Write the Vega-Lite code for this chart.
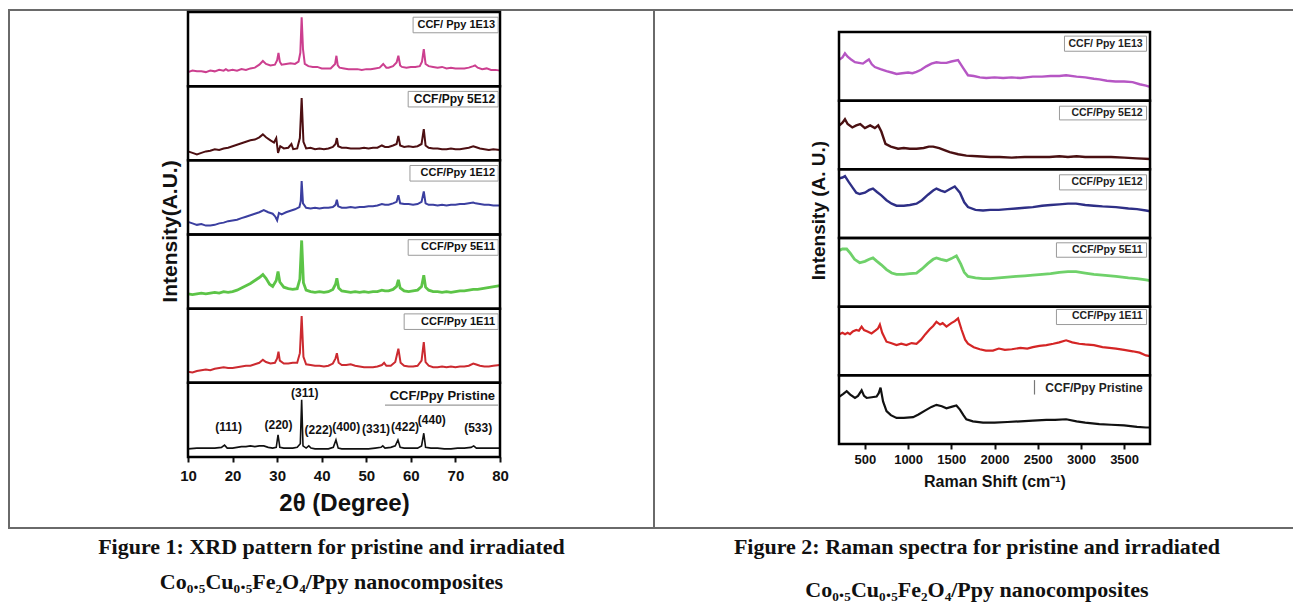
{
"$schema": "https://vega.github.io/schema/vega-lite/v6.json",
"padding": {"left": 8, "top": 9, "right": -8, "bottom": -4},
"bounds": "flush",
"spacing": 0,
"columns": 2,
"datasets": {
"hkl": [
{"t":"(111)","x":19.1,"y":0.41},{"t":"(220)","x":30.3,"y":0.43},{"t":"(311)","x":36.2,"y":0.86},{"t":"(222)","x":39.3,"y":0.36},{"t":"(400)","x":45.5,"y":0.4},{"t":"(331)","x":52.2,"y":0.38},{"t":"(422)","x":58.7,"y":0.4},{"t":"(440)","x":64.7,"y":0.5},{"t":"(533)","x":75.1,"y":0.39}
],
"xrd": [
{"s":"1E13","x":10,"y":0.19},{"s":"1E13","x":11,"y":0.21},{"s":"1E13","x":12,"y":0.2},{"s":"1E13","x":13,"y":0.2},{"s":"1E13","x":14,"y":0.19},{"s":"1E13","x":15,"y":0.21},{"s":"1E13","x":16,"y":0.2},{"s":"1E13","x":17,"y":0.22},{"s":"1E13","x":18,"y":0.21},{"s":"1E13","x":18.5,"y":0.23},{"s":"1E13","x":19,"y":0.21},{"s":"1E13","x":20,"y":0.22},{"s":"1E13","x":21,"y":0.21},{"s":"1E13","x":22,"y":0.23},{"s":"1E13","x":23,"y":0.22},{"s":"1E13","x":24,"y":0.24},{"s":"1E13","x":25,"y":0.25},{"s":"1E13","x":26,"y":0.29},{"s":"1E13","x":26.8,"y":0.34},{"s":"1E13","x":27.5,"y":0.3},{"s":"1E13","x":28.5,"y":0.28},{"s":"1E13","x":29.5,"y":0.29},{"s":"1E13","x":30,"y":0.35},{"s":"1E13","x":30.3,"y":0.45},{"s":"1E13","x":30.6,"y":0.33},{"s":"1E13","x":31,"y":0.29},{"s":"1E13","x":32,"y":0.3},{"s":"1E13","x":33,"y":0.31},{"s":"1E13","x":34,"y":0.3},{"s":"1E13","x":34.8,"y":0.33},{"s":"1E13","x":35.2,"y":0.45},{"s":"1E13","x":35.5,"y":0.93},{"s":"1E13","x":35.8,"y":0.5},{"s":"1E13","x":36.2,"y":0.3},{"s":"1E13","x":37,"y":0.27},{"s":"1E13","x":38,"y":0.26},{"s":"1E13","x":39,"y":0.26},{"s":"1E13","x":40,"y":0.24},{"s":"1E13","x":41,"y":0.24},{"s":"1E13","x":42,"y":0.24},{"s":"1E13","x":43,"y":0.3},{"s":"1E13","x":43.3,"y":0.41},{"s":"1E13","x":43.6,"y":0.28},{"s":"1E13","x":44,"y":0.25},{"s":"1E13","x":45,"y":0.24},{"s":"1E13","x":46,"y":0.23},{"s":"1E13","x":47,"y":0.23},{"s":"1E13","x":48,"y":0.23},{"s":"1E13","x":49,"y":0.22},{"s":"1E13","x":50,"y":0.23},{"s":"1E13","x":51,"y":0.23},{"s":"1E13","x":52,"y":0.24},{"s":"1E13","x":53,"y":0.25},{"s":"1E13","x":53.8,"y":0.3},{"s":"1E13","x":54.5,"y":0.25},{"s":"1E13","x":55,"y":0.25},{"s":"1E13","x":56,"y":0.27},{"s":"1E13","x":56.8,"y":0.32},{"s":"1E13","x":57.2,"y":0.41},{"s":"1E13","x":57.6,"y":0.28},{"s":"1E13","x":58,"y":0.26},{"s":"1E13","x":59,"y":0.25},{"s":"1E13","x":60,"y":0.26},{"s":"1E13","x":61,"y":0.26},{"s":"1E13","x":62,"y":0.27},{"s":"1E13","x":62.5,"y":0.33},{"s":"1E13","x":62.9,"y":0.5},{"s":"1E13","x":63.3,"y":0.3},{"s":"1E13","x":64,"y":0.27},{"s":"1E13","x":65,"y":0.26},{"s":"1E13","x":66,"y":0.25},{"s":"1E13","x":67,"y":0.26},{"s":"1E13","x":68,"y":0.24},{"s":"1E13","x":69,"y":0.25},{"s":"1E13","x":70,"y":0.24},{"s":"1E13","x":71,"y":0.24},{"s":"1E13","x":72,"y":0.24},{"s":"1E13","x":73,"y":0.25},{"s":"1E13","x":74,"y":0.27},{"s":"1E13","x":74.4,"y":0.28},{"s":"1E13","x":75,"y":0.25},{"s":"1E13","x":76,"y":0.23},{"s":"1E13","x":77,"y":0.24},{"s":"1E13","x":78,"y":0.22},{"s":"1E13","x":79,"y":0.22},{"s":"1E13","x":80,"y":0.21},
{"s":"5E12","x":10,"y":0.12},{"s":"5E12","x":11,"y":0.1},{"s":"5E12","x":12,"y":0.08},{"s":"5E12","x":13,"y":0.1},{"s":"5E12","x":14,"y":0.12},{"s":"5E12","x":15,"y":0.13},{"s":"5E12","x":16,"y":0.15},{"s":"5E12","x":17,"y":0.14},{"s":"5E12","x":18,"y":0.16},{"s":"5E12","x":19,"y":0.17},{"s":"5E12","x":20,"y":0.19},{"s":"5E12","x":21,"y":0.21},{"s":"5E12","x":22,"y":0.23},{"s":"5E12","x":23,"y":0.25},{"s":"5E12","x":24,"y":0.27},{"s":"5E12","x":25,"y":0.28},{"s":"5E12","x":26,"y":0.31},{"s":"5E12","x":26.8,"y":0.35},{"s":"5E12","x":27.5,"y":0.31},{"s":"5E12","x":28.5,"y":0.27},{"s":"5E12","x":29.3,"y":0.24},{"s":"5E12","x":29.8,"y":0.3},{"s":"5E12","x":30.2,"y":0.1},{"s":"5E12","x":30.7,"y":0.19},{"s":"5E12","x":31.5,"y":0.16},{"s":"5E12","x":32.5,"y":0.17},{"s":"5E12","x":33.2,"y":0.22},{"s":"5E12","x":33.6,"y":0.15},{"s":"5E12","x":34.5,"y":0.16},{"s":"5E12","x":35.1,"y":0.3},{"s":"5E12","x":35.5,"y":0.84},{"s":"5E12","x":35.9,"y":0.25},{"s":"5E12","x":36.5,"y":0.16},{"s":"5E12","x":37.5,"y":0.17},{"s":"5E12","x":38.5,"y":0.15},{"s":"5E12","x":39.5,"y":0.16},{"s":"5E12","x":40.5,"y":0.15},{"s":"5E12","x":41.5,"y":0.16},{"s":"5E12","x":42.5,"y":0.18},{"s":"5E12","x":43.1,"y":0.22},{"s":"5E12","x":43.4,"y":0.3},{"s":"5E12","x":43.7,"y":0.19},{"s":"5E12","x":44.5,"y":0.17},{"s":"5E12","x":45.5,"y":0.17},{"s":"5E12","x":46.5,"y":0.16},{"s":"5E12","x":47.5,"y":0.16},{"s":"5E12","x":48.5,"y":0.16},{"s":"5E12","x":49.5,"y":0.17},{"s":"5E12","x":50.5,"y":0.16},{"s":"5E12","x":51.5,"y":0.17},{"s":"5E12","x":52.5,"y":0.17},{"s":"5E12","x":53.5,"y":0.2},{"s":"5E12","x":54.2,"y":0.18},{"s":"5E12","x":55,"y":0.18},{"s":"5E12","x":56,"y":0.2},{"s":"5E12","x":56.8,"y":0.22},{"s":"5E12","x":57.2,"y":0.33},{"s":"5E12","x":57.6,"y":0.2},{"s":"5E12","x":58.5,"y":0.18},{"s":"5E12","x":59.5,"y":0.19},{"s":"5E12","x":60.5,"y":0.18},{"s":"5E12","x":61.5,"y":0.19},{"s":"5E12","x":62.4,"y":0.22},{"s":"5E12","x":62.9,"y":0.42},{"s":"5E12","x":63.3,"y":0.2},{"s":"5E12","x":64,"y":0.17},{"s":"5E12","x":65,"y":0.16},{"s":"5E12","x":66,"y":0.16},{"s":"5E12","x":67,"y":0.15},{"s":"5E12","x":68,"y":0.15},{"s":"5E12","x":69,"y":0.16},{"s":"5E12","x":70,"y":0.15},{"s":"5E12","x":71,"y":0.15},{"s":"5E12","x":72,"y":0.16},{"s":"5E12","x":73,"y":0.17},{"s":"5E12","x":74,"y":0.19},{"s":"5E12","x":74.5,"y":0.18},{"s":"5E12","x":75.5,"y":0.16},{"s":"5E12","x":76.5,"y":0.15},{"s":"5E12","x":77.5,"y":0.14},{"s":"5E12","x":78.5,"y":0.15},{"s":"5E12","x":80,"y":0.14},
{"s":"1E12","x":10,"y":0.17},{"s":"1E12","x":11,"y":0.15},{"s":"1E12","x":12,"y":0.13},{"s":"1E12","x":13,"y":0.14},{"s":"1E12","x":14,"y":0.12},{"s":"1E12","x":15,"y":0.12},{"s":"1E12","x":16,"y":0.13},{"s":"1E12","x":17,"y":0.15},{"s":"1E12","x":18,"y":0.16},{"s":"1E12","x":19,"y":0.18},{"s":"1E12","x":20,"y":0.19},{"s":"1E12","x":21,"y":0.2},{"s":"1E12","x":22,"y":0.22},{"s":"1E12","x":23,"y":0.24},{"s":"1E12","x":24,"y":0.26},{"s":"1E12","x":25,"y":0.28},{"s":"1E12","x":26,"y":0.3},{"s":"1E12","x":27,"y":0.33},{"s":"1E12","x":28,"y":0.3},{"s":"1E12","x":29,"y":0.28},{"s":"1E12","x":29.6,"y":0.24},{"s":"1E12","x":30,"y":0.19},{"s":"1E12","x":30.4,"y":0.29},{"s":"1E12","x":31,"y":0.27},{"s":"1E12","x":32,"y":0.3},{"s":"1E12","x":33,"y":0.32},{"s":"1E12","x":34,"y":0.34},{"s":"1E12","x":35,"y":0.37},{"s":"1E12","x":35.3,"y":0.45},{"s":"1E12","x":35.5,"y":0.72},{"s":"1E12","x":35.8,"y":0.42},{"s":"1E12","x":36.5,"y":0.36},{"s":"1E12","x":37.5,"y":0.35},{"s":"1E12","x":38.5,"y":0.36},{"s":"1E12","x":39.5,"y":0.35},{"s":"1E12","x":40.5,"y":0.36},{"s":"1E12","x":41.5,"y":0.36},{"s":"1E12","x":42.5,"y":0.37},{"s":"1E12","x":43.1,"y":0.4},{"s":"1E12","x":43.4,"y":0.47},{"s":"1E12","x":43.7,"y":0.38},{"s":"1E12","x":44.5,"y":0.36},{"s":"1E12","x":45.5,"y":0.36},{"s":"1E12","x":46.5,"y":0.37},{"s":"1E12","x":47.5,"y":0.36},{"s":"1E12","x":48.5,"y":0.37},{"s":"1E12","x":49.5,"y":0.37},{"s":"1E12","x":50.5,"y":0.38},{"s":"1E12","x":51.5,"y":0.38},{"s":"1E12","x":52.5,"y":0.39},{"s":"1E12","x":53.5,"y":0.41},{"s":"1E12","x":54.2,"y":0.4},{"s":"1E12","x":55,"y":0.4},{"s":"1E12","x":56,"y":0.42},{"s":"1E12","x":56.8,"y":0.44},{"s":"1E12","x":57.2,"y":0.53},{"s":"1E12","x":57.6,"y":0.42},{"s":"1E12","x":58.5,"y":0.41},{"s":"1E12","x":59.5,"y":0.41},{"s":"1E12","x":60.5,"y":0.4},{"s":"1E12","x":61.5,"y":0.41},{"s":"1E12","x":62.4,"y":0.44},{"s":"1E12","x":62.9,"y":0.58},{"s":"1E12","x":63.3,"y":0.42},{"s":"1E12","x":64,"y":0.4},{"s":"1E12","x":65,"y":0.4},{"s":"1E12","x":66,"y":0.39},{"s":"1E12","x":67,"y":0.4},{"s":"1E12","x":68,"y":0.39},{"s":"1E12","x":69,"y":0.4},{"s":"1E12","x":70,"y":0.4},{"s":"1E12","x":71,"y":0.41},{"s":"1E12","x":72,"y":0.41},{"s":"1E12","x":73,"y":0.42},{"s":"1E12","x":74,"y":0.43},{"s":"1E12","x":74.5,"y":0.42},{"s":"1E12","x":75.5,"y":0.41},{"s":"1E12","x":76.5,"y":0.4},{"s":"1E12","x":77.5,"y":0.4},{"s":"1E12","x":78.5,"y":0.39},{"s":"1E12","x":80,"y":0.39},
{"s":"5E11","x":10,"y":0.2},{"s":"5E11","x":11,"y":0.19},{"s":"5E11","x":12,"y":0.2},{"s":"5E11","x":13,"y":0.21},{"s":"5E11","x":14,"y":0.2},{"s":"5E11","x":15,"y":0.21},{"s":"5E11","x":16,"y":0.22},{"s":"5E11","x":17,"y":0.21},{"s":"5E11","x":18,"y":0.23},{"s":"5E11","x":19,"y":0.22},{"s":"5E11","x":20,"y":0.23},{"s":"5E11","x":21,"y":0.25},{"s":"5E11","x":22,"y":0.28},{"s":"5E11","x":23,"y":0.31},{"s":"5E11","x":24,"y":0.34},{"s":"5E11","x":25,"y":0.38},{"s":"5E11","x":26,"y":0.42},{"s":"5E11","x":26.8,"y":0.46},{"s":"5E11","x":27.5,"y":0.41},{"s":"5E11","x":28.3,"y":0.33},{"s":"5E11","x":29,"y":0.3},{"s":"5E11","x":29.8,"y":0.38},{"s":"5E11","x":30.2,"y":0.5},{"s":"5E11","x":30.6,"y":0.36},{"s":"5E11","x":31.5,"y":0.29},{"s":"5E11","x":32.5,"y":0.27},{"s":"5E11","x":33.5,"y":0.26},{"s":"5E11","x":34.5,"y":0.27},{"s":"5E11","x":35.1,"y":0.4},{"s":"5E11","x":35.5,"y":0.92},{"s":"5E11","x":35.9,"y":0.35},{"s":"5E11","x":36.5,"y":0.25},{"s":"5E11","x":37.5,"y":0.23},{"s":"5E11","x":38.5,"y":0.22},{"s":"5E11","x":39.5,"y":0.23},{"s":"5E11","x":40.5,"y":0.22},{"s":"5E11","x":41.5,"y":0.23},{"s":"5E11","x":42.5,"y":0.26},{"s":"5E11","x":43.1,"y":0.33},{"s":"5E11","x":43.4,"y":0.41},{"s":"5E11","x":43.8,"y":0.28},{"s":"5E11","x":44.5,"y":0.24},{"s":"5E11","x":45.5,"y":0.23},{"s":"5E11","x":46.5,"y":0.22},{"s":"5E11","x":47.5,"y":0.23},{"s":"5E11","x":48.5,"y":0.22},{"s":"5E11","x":49.5,"y":0.23},{"s":"5E11","x":50.5,"y":0.22},{"s":"5E11","x":51.5,"y":0.23},{"s":"5E11","x":52.5,"y":0.23},{"s":"5E11","x":53.5,"y":0.25},{"s":"5E11","x":54.2,"y":0.24},{"s":"5E11","x":55,"y":0.24},{"s":"5E11","x":56,"y":0.26},{"s":"5E11","x":56.8,"y":0.3},{"s":"5E11","x":57.2,"y":0.39},{"s":"5E11","x":57.6,"y":0.28},{"s":"5E11","x":58.5,"y":0.24},{"s":"5E11","x":59.5,"y":0.23},{"s":"5E11","x":60.5,"y":0.24},{"s":"5E11","x":61.5,"y":0.25},{"s":"5E11","x":62.4,"y":0.3},{"s":"5E11","x":62.9,"y":0.45},{"s":"5E11","x":63.3,"y":0.29},{"s":"5E11","x":64,"y":0.25},{"s":"5E11","x":65,"y":0.23},{"s":"5E11","x":66,"y":0.23},{"s":"5E11","x":67,"y":0.22},{"s":"5E11","x":68,"y":0.23},{"s":"5E11","x":69,"y":0.22},{"s":"5E11","x":70,"y":0.23},{"s":"5E11","x":71,"y":0.24},{"s":"5E11","x":72,"y":0.24},{"s":"5E11","x":73,"y":0.25},{"s":"5E11","x":74,"y":0.26},{"s":"5E11","x":75,"y":0.26},{"s":"5E11","x":76,"y":0.27},{"s":"5E11","x":77,"y":0.28},{"s":"5E11","x":78,"y":0.29},{"s":"5E11","x":79,"y":0.3},{"s":"5E11","x":80,"y":0.31},
{"s":"1E11","x":10,"y":0.15},{"s":"1E11","x":11,"y":0.14},{"s":"1E11","x":12,"y":0.16},{"s":"1E11","x":13,"y":0.17},{"s":"1E11","x":14,"y":0.18},{"s":"1E11","x":15,"y":0.17},{"s":"1E11","x":16,"y":0.19},{"s":"1E11","x":17,"y":0.2},{"s":"1E11","x":18,"y":0.21},{"s":"1E11","x":19,"y":0.2},{"s":"1E11","x":20,"y":0.2},{"s":"1E11","x":21,"y":0.21},{"s":"1E11","x":22,"y":0.22},{"s":"1E11","x":23,"y":0.23},{"s":"1E11","x":24,"y":0.23},{"s":"1E11","x":25,"y":0.25},{"s":"1E11","x":26,"y":0.27},{"s":"1E11","x":26.8,"y":0.31},{"s":"1E11","x":27.5,"y":0.28},{"s":"1E11","x":28.5,"y":0.26},{"s":"1E11","x":29.5,"y":0.27},{"s":"1E11","x":30,"y":0.33},{"s":"1E11","x":30.3,"y":0.42},{"s":"1E11","x":30.6,"y":0.3},{"s":"1E11","x":31.5,"y":0.26},{"s":"1E11","x":32.5,"y":0.26},{"s":"1E11","x":33.5,"y":0.27},{"s":"1E11","x":34.5,"y":0.27},{"s":"1E11","x":35.1,"y":0.4},{"s":"1E11","x":35.5,"y":0.9},{"s":"1E11","x":35.9,"y":0.35},{"s":"1E11","x":36.5,"y":0.25},{"s":"1E11","x":37.5,"y":0.24},{"s":"1E11","x":38.5,"y":0.23},{"s":"1E11","x":39.5,"y":0.23},{"s":"1E11","x":40.5,"y":0.22},{"s":"1E11","x":41.5,"y":0.23},{"s":"1E11","x":42.5,"y":0.26},{"s":"1E11","x":43.1,"y":0.33},{"s":"1E11","x":43.4,"y":0.4},{"s":"1E11","x":43.8,"y":0.27},{"s":"1E11","x":44.5,"y":0.24},{"s":"1E11","x":45.5,"y":0.24},{"s":"1E11","x":46.5,"y":0.25},{"s":"1E11","x":47.5,"y":0.23},{"s":"1E11","x":48.5,"y":0.22},{"s":"1E11","x":49.5,"y":0.21},{"s":"1E11","x":50.5,"y":0.21},{"s":"1E11","x":51.5,"y":0.21},{"s":"1E11","x":52.5,"y":0.22},{"s":"1E11","x":53.5,"y":0.24},{"s":"1E11","x":54,"y":0.27},{"s":"1E11","x":54.5,"y":0.23},{"s":"1E11","x":55.5,"y":0.23},{"s":"1E11","x":56.5,"y":0.28},{"s":"1E11","x":57.2,"y":0.46},{"s":"1E11","x":57.7,"y":0.27},{"s":"1E11","x":58.5,"y":0.23},{"s":"1E11","x":59.5,"y":0.22},{"s":"1E11","x":60.5,"y":0.22},{"s":"1E11","x":61.5,"y":0.23},{"s":"1E11","x":62.4,"y":0.3},{"s":"1E11","x":62.9,"y":0.55},{"s":"1E11","x":63.3,"y":0.28},{"s":"1E11","x":64,"y":0.23},{"s":"1E11","x":65,"y":0.21},{"s":"1E11","x":66,"y":0.21},{"s":"1E11","x":67,"y":0.22},{"s":"1E11","x":68,"y":0.21},{"s":"1E11","x":69,"y":0.22},{"s":"1E11","x":70,"y":0.21},{"s":"1E11","x":71,"y":0.22},{"s":"1E11","x":72,"y":0.22},{"s":"1E11","x":73,"y":0.23},{"s":"1E11","x":74,"y":0.26},{"s":"1E11","x":74.5,"y":0.25},{"s":"1E11","x":75.5,"y":0.23},{"s":"1E11","x":76.5,"y":0.22},{"s":"1E11","x":77.5,"y":0.22},{"s":"1E11","x":78.5,"y":0.23},{"s":"1E11","x":80,"y":0.24},
{"s":"P","x":10,"y":0.11},{"s":"P","x":12,"y":0.12},{"s":"P","x":14,"y":0.12},{"s":"P","x":16,"y":0.12},{"s":"P","x":17.5,"y":0.13},{"s":"P","x":18.2,"y":0.16},{"s":"P","x":18.8,"y":0.12},{"s":"P","x":20,"y":0.12},{"s":"P","x":21,"y":0.13},{"s":"P","x":22,"y":0.14},{"s":"P","x":23,"y":0.14},{"s":"P","x":24,"y":0.15},{"s":"P","x":25,"y":0.14},{"s":"P","x":26,"y":0.15},{"s":"P","x":27,"y":0.15},{"s":"P","x":28,"y":0.13},{"s":"P","x":29,"y":0.12},{"s":"P","x":29.8,"y":0.13},{"s":"P","x":30.2,"y":0.3},{"s":"P","x":30.6,"y":0.13},{"s":"P","x":31.5,"y":0.12},{"s":"P","x":32.5,"y":0.12},{"s":"P","x":33.5,"y":0.12},{"s":"P","x":34.5,"y":0.13},{"s":"P","x":35.2,"y":0.18},{"s":"P","x":35.5,"y":0.77},{"s":"P","x":35.8,"y":0.15},{"s":"P","x":36.5,"y":0.12},{"s":"P","x":37.1,"y":0.15},{"s":"P","x":37.6,"y":0.12},{"s":"P","x":38.5,"y":0.11},{"s":"P","x":39.5,"y":0.11},{"s":"P","x":40.5,"y":0.11},{"s":"P","x":41.5,"y":0.11},{"s":"P","x":42.6,"y":0.13},{"s":"P","x":43.2,"y":0.23},{"s":"P","x":43.7,"y":0.12},{"s":"P","x":44.5,"y":0.11},{"s":"P","x":46,"y":0.11},{"s":"P","x":47.5,"y":0.11},{"s":"P","x":49,"y":0.11},{"s":"P","x":50.5,"y":0.11},{"s":"P","x":52,"y":0.12},{"s":"P","x":53.3,"y":0.13},{"s":"P","x":53.7,"y":0.15},{"s":"P","x":54.2,"y":0.12},{"s":"P","x":55.5,"y":0.13},{"s":"P","x":56.5,"y":0.15},{"s":"P","x":57.1,"y":0.23},{"s":"P","x":57.6,"y":0.13},{"s":"P","x":58.5,"y":0.12},{"s":"P","x":60,"y":0.12},{"s":"P","x":61.5,"y":0.12},{"s":"P","x":62.4,"y":0.15},{"s":"P","x":62.9,"y":0.32},{"s":"P","x":63.3,"y":0.13},{"s":"P","x":64.5,"y":0.12},{"s":"P","x":66,"y":0.12},{"s":"P","x":67.5,"y":0.11},{"s":"P","x":69,"y":0.11},{"s":"P","x":70.5,"y":0.12},{"s":"P","x":72,"y":0.12},{"s":"P","x":73.5,"y":0.13},{"s":"P","x":74.1,"y":0.15},{"s":"P","x":74.7,"y":0.12},{"s":"P","x":76,"y":0.12},{"s":"P","x":78,"y":0.12},{"s":"P","x":80,"y":0.12}
],
"raman": [
{"s":"1E13","x":205,"y":0.6},{"s":"1E13","x":240,"y":0.63},{"s":"1E13","x":269,"y":0.69},{"s":"1E13","x":300,"y":0.64},{"s":"1E13","x":340,"y":0.6},{"s":"1E13","x":385,"y":0.56},{"s":"1E13","x":430,"y":0.55},{"s":"1E13","x":477,"y":0.54},{"s":"1E13","x":510,"y":0.57},{"s":"1E13","x":546,"y":0.6},{"s":"1E13","x":580,"y":0.53},{"s":"1E13","x":615,"y":0.49},{"s":"1E13","x":680,"y":0.46},{"s":"1E13","x":750,"y":0.43},{"s":"1E13","x":810,"y":0.41},{"s":"1E13","x":866,"y":0.39},{"s":"1E13","x":930,"y":0.4},{"s":"1E13","x":1000,"y":0.41},{"s":"1E13","x":1050,"y":0.4},{"s":"1E13","x":1097,"y":0.42},{"s":"1E13","x":1150,"y":0.45},{"s":"1E13","x":1210,"y":0.5},{"s":"1E13","x":1270,"y":0.54},{"s":"1E13","x":1328,"y":0.56},{"s":"1E13","x":1380,"y":0.55},{"s":"1E13","x":1444,"y":0.55},{"s":"1E13","x":1500,"y":0.57},{"s":"1E13","x":1578,"y":0.59},{"s":"1E13","x":1640,"y":0.47},{"s":"1E13","x":1693,"y":0.37},{"s":"1E13","x":1760,"y":0.36},{"s":"1E13","x":1830,"y":0.34},{"s":"1E13","x":1905,"y":0.33},{"s":"1E13","x":2000,"y":0.34},{"s":"1E13","x":2100,"y":0.33},{"s":"1E13","x":2200,"y":0.34},{"s":"1E13","x":2300,"y":0.33},{"s":"1E13","x":2444,"y":0.35},{"s":"1E13","x":2550,"y":0.35},{"s":"1E13","x":2650,"y":0.36},{"s":"1E13","x":2750,"y":0.36},{"s":"1E13","x":2829,"y":0.37},{"s":"1E13","x":2950,"y":0.35},{"s":"1E13","x":3050,"y":0.34},{"s":"1E13","x":3150,"y":0.32},{"s":"1E13","x":3214,"y":0.31},{"s":"1E13","x":3300,"y":0.29},{"s":"1E13","x":3400,"y":0.28},{"s":"1E13","x":3500,"y":0.28},{"s":"1E13","x":3598,"y":0.27},{"s":"1E13","x":3680,"y":0.24},{"s":"1E13","x":3753,"y":0.22},{"s":"1E13","x":3800,"y":0.2},
{"s":"5E12","x":205,"y":0.64},{"s":"5E12","x":240,"y":0.68},{"s":"5E12","x":269,"y":0.73},{"s":"5E12","x":300,"y":0.66},{"s":"5E12","x":354,"y":0.61},{"s":"5E12","x":400,"y":0.64},{"s":"5E12","x":446,"y":0.66},{"s":"5E12","x":500,"y":0.6},{"s":"5E12","x":561,"y":0.64},{"s":"5E12","x":615,"y":0.6},{"s":"5E12","x":654,"y":0.64},{"s":"5E12","x":690,"y":0.55},{"s":"5E12","x":738,"y":0.37},{"s":"5E12","x":800,"y":0.33},{"s":"5E12","x":884,"y":0.3},{"s":"5E12","x":950,"y":0.31},{"s":"5E12","x":1020,"y":0.3},{"s":"5E12","x":1097,"y":0.3},{"s":"5E12","x":1180,"y":0.31},{"s":"5E12","x":1240,"y":0.33},{"s":"5E12","x":1290,"y":0.33},{"s":"5E12","x":1360,"y":0.31},{"s":"5E12","x":1420,"y":0.28},{"s":"5E12","x":1482,"y":0.25},{"s":"5E12","x":1580,"y":0.22},{"s":"5E12","x":1674,"y":0.2},{"s":"5E12","x":1800,"y":0.19},{"s":"5E12","x":1950,"y":0.18},{"s":"5E12","x":2059,"y":0.18},{"s":"5E12","x":2200,"y":0.17},{"s":"5E12","x":2350,"y":0.18},{"s":"5E12","x":2500,"y":0.18},{"s":"5E12","x":2636,"y":0.18},{"s":"5E12","x":2750,"y":0.19},{"s":"5E12","x":2850,"y":0.18},{"s":"5E12","x":2950,"y":0.19},{"s":"5E12","x":3050,"y":0.18},{"s":"5E12","x":3214,"y":0.18},{"s":"5E12","x":3350,"y":0.18},{"s":"5E12","x":3500,"y":0.17},{"s":"5E12","x":3650,"y":0.16},{"s":"5E12","x":3800,"y":0.15},
{"s":"1E12","x":205,"y":0.87},{"s":"1E12","x":240,"y":0.88},{"s":"1E12","x":269,"y":0.9},{"s":"1E12","x":310,"y":0.82},{"s":"1E12","x":360,"y":0.73},{"s":"1E12","x":400,"y":0.66},{"s":"1E12","x":439,"y":0.64},{"s":"1E12","x":500,"y":0.66},{"s":"1E12","x":550,"y":0.7},{"s":"1E12","x":593,"y":0.72},{"s":"1E12","x":640,"y":0.67},{"s":"1E12","x":690,"y":0.62},{"s":"1E12","x":750,"y":0.55},{"s":"1E12","x":810,"y":0.5},{"s":"1E12","x":866,"y":0.47},{"s":"1E12","x":950,"y":0.47},{"s":"1E12","x":1020,"y":0.48},{"s":"1E12","x":1097,"y":0.5},{"s":"1E12","x":1160,"y":0.55},{"s":"1E12","x":1230,"y":0.63},{"s":"1E12","x":1290,"y":0.69},{"s":"1E12","x":1328,"y":0.72},{"s":"1E12","x":1380,"y":0.69},{"s":"1E12","x":1425,"y":0.67},{"s":"1E12","x":1480,"y":0.71},{"s":"1E12","x":1540,"y":0.75},{"s":"1E12","x":1600,"y":0.66},{"s":"1E12","x":1650,"y":0.52},{"s":"1E12","x":1693,"y":0.45},{"s":"1E12","x":1780,"y":0.41},{"s":"1E12","x":1867,"y":0.4},{"s":"1E12","x":1950,"y":0.41},{"s":"1E12","x":2050,"y":0.41},{"s":"1E12","x":2150,"y":0.42},{"s":"1E12","x":2250,"y":0.43},{"s":"1E12","x":2350,"y":0.44},{"s":"1E12","x":2444,"y":0.45},{"s":"1E12","x":2550,"y":0.47},{"s":"1E12","x":2650,"y":0.48},{"s":"1E12","x":2750,"y":0.49},{"s":"1E12","x":2850,"y":0.5},{"s":"1E12","x":2944,"y":0.5},{"s":"1E12","x":3050,"y":0.48},{"s":"1E12","x":3150,"y":0.47},{"s":"1E12","x":3250,"y":0.46},{"s":"1E12","x":3406,"y":0.45},{"s":"1E12","x":3550,"y":0.43},{"s":"1E12","x":3650,"y":0.42},{"s":"1E12","x":3753,"y":0.4},{"s":"1E12","x":3800,"y":0.39},
{"s":"5E11","x":205,"y":0.82},{"s":"5E11","x":240,"y":0.84},{"s":"5E11","x":289,"y":0.84},{"s":"5E11","x":330,"y":0.78},{"s":"5E11","x":380,"y":0.69},{"s":"5E11","x":439,"y":0.64},{"s":"5E11","x":500,"y":0.66},{"s":"5E11","x":550,"y":0.69},{"s":"5E11","x":593,"y":0.71},{"s":"5E11","x":640,"y":0.66},{"s":"5E11","x":690,"y":0.61},{"s":"5E11","x":750,"y":0.54},{"s":"5E11","x":810,"y":0.49},{"s":"5E11","x":866,"y":0.47},{"s":"5E11","x":950,"y":0.47},{"s":"5E11","x":1020,"y":0.48},{"s":"5E11","x":1097,"y":0.49},{"s":"5E11","x":1160,"y":0.55},{"s":"5E11","x":1230,"y":0.63},{"s":"5E11","x":1290,"y":0.69},{"s":"5E11","x":1328,"y":0.71},{"s":"5E11","x":1380,"y":0.69},{"s":"5E11","x":1444,"y":0.67},{"s":"5E11","x":1500,"y":0.7},{"s":"5E11","x":1559,"y":0.74},{"s":"5E11","x":1610,"y":0.62},{"s":"5E11","x":1650,"y":0.5},{"s":"5E11","x":1693,"y":0.44},{"s":"5E11","x":1780,"y":0.42},{"s":"5E11","x":1867,"y":0.41},{"s":"5E11","x":1950,"y":0.41},{"s":"5E11","x":2050,"y":0.42},{"s":"5E11","x":2150,"y":0.43},{"s":"5E11","x":2250,"y":0.44},{"s":"5E11","x":2350,"y":0.45},{"s":"5E11","x":2444,"y":0.46},{"s":"5E11","x":2550,"y":0.47},{"s":"5E11","x":2650,"y":0.48},{"s":"5E11","x":2750,"y":0.5},{"s":"5E11","x":2850,"y":0.51},{"s":"5E11","x":2944,"y":0.51},{"s":"5E11","x":3050,"y":0.49},{"s":"5E11","x":3150,"y":0.47},{"s":"5E11","x":3250,"y":0.46},{"s":"5E11","x":3406,"y":0.44},{"s":"5E11","x":3550,"y":0.42},{"s":"5E11","x":3650,"y":0.41},{"s":"5E11","x":3753,"y":0.39},{"s":"5E11","x":3800,"y":0.38},
{"s":"1E11","x":205,"y":0.6},{"s":"1E11","x":240,"y":0.62},{"s":"1E11","x":270,"y":0.6},{"s":"1E11","x":300,"y":0.62},{"s":"1E11","x":327,"y":0.6},{"s":"1E11","x":360,"y":0.64},{"s":"1E11","x":400,"y":0.66},{"s":"1E11","x":430,"y":0.65},{"s":"1E11","x":462,"y":0.71},{"s":"1E11","x":490,"y":0.66},{"s":"1E11","x":530,"y":0.64},{"s":"1E11","x":577,"y":0.61},{"s":"1E11","x":620,"y":0.65},{"s":"1E11","x":650,"y":0.68},{"s":"1E11","x":673,"y":0.74},{"s":"1E11","x":700,"y":0.62},{"s":"1E11","x":750,"y":0.49},{"s":"1E11","x":800,"y":0.47},{"s":"1E11","x":866,"y":0.44},{"s":"1E11","x":920,"y":0.46},{"s":"1E11","x":980,"y":0.44},{"s":"1E11","x":1040,"y":0.47},{"s":"1E11","x":1097,"y":0.46},{"s":"1E11","x":1150,"y":0.52},{"s":"1E11","x":1200,"y":0.6},{"s":"1E11","x":1250,"y":0.67},{"s":"1E11","x":1290,"y":0.72},{"s":"1E11","x":1328,"y":0.78},{"s":"1E11","x":1370,"y":0.74},{"s":"1E11","x":1400,"y":0.76},{"s":"1E11","x":1444,"y":0.71},{"s":"1E11","x":1500,"y":0.76},{"s":"1E11","x":1540,"y":0.79},{"s":"1E11","x":1578,"y":0.83},{"s":"1E11","x":1620,"y":0.66},{"s":"1E11","x":1660,"y":0.52},{"s":"1E11","x":1693,"y":0.46},{"s":"1E11","x":1760,"y":0.41},{"s":"1E11","x":1830,"y":0.38},{"s":"1E11","x":1900,"y":0.36},{"s":"1E11","x":1982,"y":0.36},{"s":"1E11","x":2050,"y":0.39},{"s":"1E11","x":2120,"y":0.37},{"s":"1E11","x":2200,"y":0.38},{"s":"1E11","x":2300,"y":0.4},{"s":"1E11","x":2380,"y":0.39},{"s":"1E11","x":2444,"y":0.41},{"s":"1E11","x":2520,"y":0.43},{"s":"1E11","x":2600,"y":0.44},{"s":"1E11","x":2680,"y":0.46},{"s":"1E11","x":2750,"y":0.48},{"s":"1E11","x":2829,"y":0.51},{"s":"1E11","x":2900,"y":0.48},{"s":"1E11","x":2980,"y":0.46},{"s":"1E11","x":3050,"y":0.45},{"s":"1E11","x":3150,"y":0.44},{"s":"1E11","x":3250,"y":0.41},{"s":"1E11","x":3330,"y":0.4},{"s":"1E11","x":3406,"y":0.39},{"s":"1E11","x":3500,"y":0.37},{"s":"1E11","x":3600,"y":0.35},{"s":"1E11","x":3680,"y":0.33},{"s":"1E11","x":3753,"y":0.29},{"s":"1E11","x":3800,"y":0.28},
{"s":"P","x":205,"y":0.69},{"s":"P","x":250,"y":0.73},{"s":"P","x":289,"y":0.77},{"s":"P","x":330,"y":0.72},{"s":"P","x":385,"y":0.67},{"s":"P","x":420,"y":0.7},{"s":"P","x":462,"y":0.78},{"s":"P","x":490,"y":0.7},{"s":"P","x":520,"y":0.67},{"s":"P","x":580,"y":0.68},{"s":"P","x":635,"y":0.69},{"s":"P","x":660,"y":0.74},{"s":"P","x":681,"y":0.82},{"s":"P","x":710,"y":0.62},{"s":"P","x":750,"y":0.48},{"s":"P","x":800,"y":0.42},{"s":"P","x":866,"y":0.38},{"s":"P","x":950,"y":0.38},{"s":"P","x":1058,"y":0.39},{"s":"P","x":1120,"y":0.43},{"s":"P","x":1200,"y":0.49},{"s":"P","x":1270,"y":0.54},{"s":"P","x":1328,"y":0.57},{"s":"P","x":1390,"y":0.55},{"s":"P","x":1444,"y":0.52},{"s":"P","x":1500,"y":0.54},{"s":"P","x":1559,"y":0.56},{"s":"P","x":1600,"y":0.5},{"s":"P","x":1640,"y":0.42},{"s":"P","x":1674,"y":0.36},{"s":"P","x":1750,"y":0.33},{"s":"P","x":1867,"y":0.31},{"s":"P","x":2000,"y":0.31},{"s":"P","x":2150,"y":0.32},{"s":"P","x":2300,"y":0.33},{"s":"P","x":2444,"y":0.34},{"s":"P","x":2600,"y":0.35},{"s":"P","x":2700,"y":0.35},{"s":"P","x":2829,"y":0.36},{"s":"P","x":2950,"y":0.33},{"s":"P","x":3050,"y":0.31},{"s":"P","x":3214,"y":0.29},{"s":"P","x":3350,"y":0.28},{"s":"P","x":3500,"y":0.27},{"s":"P","x":3650,"y":0.25},{"s":"P","x":3753,"y":0.24},{"s":"P","x":3800,"y":0.24}
]
},
"concat": [
{
"width": 645, "height": 518,
"resolve": {"scale": {"y": "independent"}},
"layer": [
{"layer": [
{"data": {"name": "xrd"}, "transform": [{"filter": "datum.s === '1E13'"}], "mark": {"type": "line", "color": "#cc3f8f", "strokeWidth": 2}, "encoding": {"x": {"field": "x", "type": "quantitative", "scale": {"domain": [10, 80], "range": [179, 491], "nice": false, "zero": false}}, "y": {"field": "y", "type": "quantitative", "scale": {"domain": [0, 1], "range": [76.2, 2], "nice": false, "zero": false}, "axis": null}}},
{"data": {"values": [{}]}, "mark": {"type": "rect", "filled": false, "stroke": "#000", "strokeWidth": 2.5}, "encoding": {"x": {"datum": 10, "type": "quantitative", "scale": {"domain": [10, 80], "range": [179, 491], "nice": false, "zero": false}}, "x2": {"datum": 80}, "y": {"datum": 0, "type": "quantitative", "scale": {"domain": [0, 1], "range": [76.2, 2], "nice": false, "zero": false}, "axis": null}, "y2": {"datum": 1}}},
{"data": {"values": [{}]}, "mark": {"type": "rect", "fill": "#fff", "stroke": "#9a9a9a", "strokeWidth": 1}, "encoding": {"x": {"datum": 60.5, "type": "quantitative", "scale": {"domain": [10, 80], "range": [179, 491], "nice": false, "zero": false}}, "x2": {"datum": 79.6}, "y": {"datum": 0.72, "type": "quantitative", "scale": {"domain": [0, 1], "range": [76.2, 2], "nice": false, "zero": false}, "axis": null}, "y2": {"datum": 0.93}}},
{"data": {"values": [{}]}, "mark": {"type": "text", "text": "CCF/ Ppy 1E13", "align": "right", "baseline": "middle", "fontSize": 11, "fontWeight": "bold", "color": "#111"}, "encoding": {"x": {"datum": 78.9, "type": "quantitative", "scale": {"domain": [10, 80], "range": [179, 491], "nice": false, "zero": false}}, "y": {"datum": 0.825, "type": "quantitative", "scale": {"domain": [0, 1], "range": [76.2, 2], "nice": false, "zero": false}, "axis": null}}}
]},
{"layer": [
{"data": {"name": "xrd"}, "transform": [{"filter": "datum.s === '5E12'"}], "mark": {"type": "line", "color": "#4d0f12", "strokeWidth": 2}, "encoding": {"x": {"field": "x", "type": "quantitative", "scale": {"domain": [10, 80], "range": [179, 491], "nice": false, "zero": false}}, "y": {"field": "y", "type": "quantitative", "scale": {"domain": [0, 1], "range": [150.3, 76.2], "nice": false, "zero": false}, "axis": null}}},
{"data": {"values": [{}]}, "mark": {"type": "rect", "filled": false, "stroke": "#000", "strokeWidth": 2.5}, "encoding": {"x": {"datum": 10, "type": "quantitative", "scale": {"domain": [10, 80], "range": [179, 491], "nice": false, "zero": false}}, "x2": {"datum": 80}, "y": {"datum": 0, "type": "quantitative", "scale": {"domain": [0, 1], "range": [150.3, 76.2], "nice": false, "zero": false}, "axis": null}, "y2": {"datum": 1}}},
{"data": {"values": [{}]}, "mark": {"type": "rect", "fill": "#fff", "stroke": "#9a9a9a", "strokeWidth": 1}, "encoding": {"x": {"datum": 59.4, "type": "quantitative", "scale": {"domain": [10, 80], "range": [179, 491], "nice": false, "zero": false}}, "x2": {"datum": 79.6}, "y": {"datum": 0.72, "type": "quantitative", "scale": {"domain": [0, 1], "range": [150.3, 76.2], "nice": false, "zero": false}, "axis": null}, "y2": {"datum": 0.93}}},
{"data": {"values": [{}]}, "mark": {"type": "text", "text": "CCF/Ppy 5E12", "align": "right", "baseline": "middle", "fontSize": 12, "fontWeight": "bold", "color": "#111"}, "encoding": {"x": {"datum": 78.9, "type": "quantitative", "scale": {"domain": [10, 80], "range": [179, 491], "nice": false, "zero": false}}, "y": {"datum": 0.825, "type": "quantitative", "scale": {"domain": [0, 1], "range": [150.3, 76.2], "nice": false, "zero": false}, "axis": null}}}
]},
{"layer": [
{"data": {"name": "xrd"}, "transform": [{"filter": "datum.s === '1E12'"}], "mark": {"type": "line", "color": "#3b3fa0", "strokeWidth": 2}, "encoding": {"x": {"field": "x", "type": "quantitative", "scale": {"domain": [10, 80], "range": [179, 491], "nice": false, "zero": false}}, "y": {"field": "y", "type": "quantitative", "scale": {"domain": [0, 1], "range": [224.5, 150.3], "nice": false, "zero": false}, "axis": null}}},
{"data": {"values": [{}]}, "mark": {"type": "rect", "filled": false, "stroke": "#000", "strokeWidth": 2.5}, "encoding": {"x": {"datum": 10, "type": "quantitative", "scale": {"domain": [10, 80], "range": [179, 491], "nice": false, "zero": false}}, "x2": {"datum": 80}, "y": {"datum": 0, "type": "quantitative", "scale": {"domain": [0, 1], "range": [224.5, 150.3], "nice": false, "zero": false}, "axis": null}, "y2": {"datum": 1}}},
{"data": {"values": [{}]}, "mark": {"type": "rect", "fill": "#fff", "stroke": "#9a9a9a", "strokeWidth": 1}, "encoding": {"x": {"datum": 59.8, "type": "quantitative", "scale": {"domain": [10, 80], "range": [179, 491], "nice": false, "zero": false}}, "x2": {"datum": 79.6}, "y": {"datum": 0.72, "type": "quantitative", "scale": {"domain": [0, 1], "range": [224.5, 150.3], "nice": false, "zero": false}, "axis": null}, "y2": {"datum": 0.93}}},
{"data": {"values": [{}]}, "mark": {"type": "text", "text": "CCF/Ppy 1E12", "align": "right", "baseline": "middle", "fontSize": 11, "fontWeight": "bold", "color": "#111"}, "encoding": {"x": {"datum": 78.9, "type": "quantitative", "scale": {"domain": [10, 80], "range": [179, 491], "nice": false, "zero": false}}, "y": {"datum": 0.825, "type": "quantitative", "scale": {"domain": [0, 1], "range": [224.5, 150.3], "nice": false, "zero": false}, "axis": null}}}
]},
{"layer": [
{"data": {"name": "xrd"}, "transform": [{"filter": "datum.s === '5E11'"}], "mark": {"type": "line", "color": "#5cc447", "strokeWidth": 2.8}, "encoding": {"x": {"field": "x", "type": "quantitative", "scale": {"domain": [10, 80], "range": [179, 491], "nice": false, "zero": false}}, "y": {"field": "y", "type": "quantitative", "scale": {"domain": [0, 1], "range": [298.7, 224.5], "nice": false, "zero": false}, "axis": null}}},
{"data": {"values": [{}]}, "mark": {"type": "rect", "filled": false, "stroke": "#000", "strokeWidth": 2.5}, "encoding": {"x": {"datum": 10, "type": "quantitative", "scale": {"domain": [10, 80], "range": [179, 491], "nice": false, "zero": false}}, "x2": {"datum": 80}, "y": {"datum": 0, "type": "quantitative", "scale": {"domain": [0, 1], "range": [298.7, 224.5], "nice": false, "zero": false}, "axis": null}, "y2": {"datum": 1}}},
{"data": {"values": [{}]}, "mark": {"type": "rect", "fill": "#fff", "stroke": "#9a9a9a", "strokeWidth": 1}, "encoding": {"x": {"datum": 59.4, "type": "quantitative", "scale": {"domain": [10, 80], "range": [179, 491], "nice": false, "zero": false}}, "x2": {"datum": 79.6}, "y": {"datum": 0.72, "type": "quantitative", "scale": {"domain": [0, 1], "range": [298.7, 224.5], "nice": false, "zero": false}, "axis": null}, "y2": {"datum": 0.93}}},
{"data": {"values": [{}]}, "mark": {"type": "text", "text": "CCF/Ppy 5E11", "align": "right", "baseline": "middle", "fontSize": 11, "fontWeight": "bold", "color": "#111"}, "encoding": {"x": {"datum": 78.9, "type": "quantitative", "scale": {"domain": [10, 80], "range": [179, 491], "nice": false, "zero": false}}, "y": {"datum": 0.825, "type": "quantitative", "scale": {"domain": [0, 1], "range": [298.7, 224.5], "nice": false, "zero": false}, "axis": null}}}
]},
{"layer": [
{"data": {"name": "xrd"}, "transform": [{"filter": "datum.s === '1E11'"}], "mark": {"type": "line", "color": "#cc2a30", "strokeWidth": 2}, "encoding": {"x": {"field": "x", "type": "quantitative", "scale": {"domain": [10, 80], "range": [179, 491], "nice": false, "zero": false}}, "y": {"field": "y", "type": "quantitative", "scale": {"domain": [0, 1], "range": [372.8, 298.7], "nice": false, "zero": false}, "axis": null}}},
{"data": {"values": [{}]}, "mark": {"type": "rect", "filled": false, "stroke": "#000", "strokeWidth": 2.5}, "encoding": {"x": {"datum": 10, "type": "quantitative", "scale": {"domain": [10, 80], "range": [179, 491], "nice": false, "zero": false}}, "x2": {"datum": 80}, "y": {"datum": 0, "type": "quantitative", "scale": {"domain": [0, 1], "range": [372.8, 298.7], "nice": false, "zero": false}, "axis": null}, "y2": {"datum": 1}}},
{"data": {"values": [{}]}, "mark": {"type": "rect", "fill": "#fff", "stroke": "#9a9a9a", "strokeWidth": 1}, "encoding": {"x": {"datum": 58.5, "type": "quantitative", "scale": {"domain": [10, 80], "range": [179, 491], "nice": false, "zero": false}}, "x2": {"datum": 79.6}, "y": {"datum": 0.72, "type": "quantitative", "scale": {"domain": [0, 1], "range": [372.8, 298.7], "nice": false, "zero": false}, "axis": null}, "y2": {"datum": 0.93}}},
{"data": {"values": [{}]}, "mark": {"type": "text", "text": "CCF/Ppy 1E11", "align": "right", "baseline": "middle", "fontSize": 11, "fontWeight": "bold", "color": "#111"}, "encoding": {"x": {"datum": 78.9, "type": "quantitative", "scale": {"domain": [10, 80], "range": [179, 491], "nice": false, "zero": false}}, "y": {"datum": 0.825, "type": "quantitative", "scale": {"domain": [0, 1], "range": [372.8, 298.7], "nice": false, "zero": false}, "axis": null}}}
]},
{"layer": [
{"data": {"name": "xrd"}, "transform": [{"filter": "datum.s === 'P'"}], "mark": {"type": "line", "color": "#111", "strokeWidth": 1.6}, "encoding": {"x": {"field": "x", "type": "quantitative", "scale": {"domain": [10, 80], "range": [179, 491], "nice": false, "zero": false}, "axis": {"title": "2θ (Degree)", "values": [10, 20, 30, 40, 50, 60, 70, 80], "format": "d", "offset": -71, "domain": false, "grid": false, "ticks": true, "labels": true, "tickSize": 5, "tickWidth": 2, "tickColor": "#111", "labelFlush": false, "labelFontSize": 15, "labelFontWeight": "bold", "labelColor": "#111", "labelPadding": 6, "titleFontSize": 24, "titleFontWeight": "bold", "titleColor": "#111", "titlePadding": 8}}, "y": {"field": "y", "type": "quantitative", "scale": {"domain": [0, 1], "range": [447, 372.8], "nice": false, "zero": false}, "axis": {"title": "Intensity(A.U.)", "orient": "left", "labels": false, "ticks": false, "domain": false, "grid": false, "titleX": 161, "titleY": 221, "titleAngle": -90, "titleAlign": "center", "titleBaseline": "middle", "titleFontSize": 21, "titleFontWeight": "bold", "titleColor": "#111"}}}},
{"data": {"values": [{}]}, "mark": {"type": "rect", "filled": false, "stroke": "#000", "strokeWidth": 2.5}, "encoding": {"x": {"datum": 10, "type": "quantitative", "scale": {"domain": [10, 80], "range": [179, 491], "nice": false, "zero": false}}, "x2": {"datum": 80}, "y": {"datum": 0, "type": "quantitative", "scale": {"domain": [0, 1], "range": [447, 372.8], "nice": false, "zero": false}}, "y2": {"datum": 1}}},
{"data": {"values": [{}]}, "mark": {"type": "rule", "stroke": "#9a9a9a", "strokeWidth": 1.2}, "encoding": {"x": {"datum": 54.2, "type": "quantitative", "scale": {"domain": [10, 80], "range": [179, 491], "nice": false, "zero": false}}, "x2": {"datum": 79.6}, "y": {"datum": 0.7, "type": "quantitative", "scale": {"domain": [0, 1], "range": [447, 372.8], "nice": false, "zero": false}}}},
{"data": {"values": [{}]}, "mark": {"type": "text", "text": "CCF/Ppy Pristine", "align": "right", "baseline": "middle", "fontSize": 13, "fontWeight": "bold", "color": "#111"}, "encoding": {"x": {"datum": 78.9, "type": "quantitative", "scale": {"domain": [10, 80], "range": [179, 491], "nice": false, "zero": false}}, "y": {"datum": 0.82, "type": "quantitative", "scale": {"domain": [0, 1], "range": [447, 372.8], "nice": false, "zero": false}}}},
{"data": {"name": "hkl"}, "mark": {"type": "text", "baseline": "middle", "fontSize": 12, "fontWeight": "bold", "color": "#111"}, "encoding": {"text": {"field": "t"}, "x": {"field": "x", "type": "quantitative", "scale": {"domain": [10, 80], "range": [179, 491], "nice": false, "zero": false}}, "y": {"field": "y", "type": "quantitative", "scale": {"domain": [0, 1], "range": [447, 372.8], "nice": false, "zero": false}}}}
]}
]
},
{
"width": 646, "height": 518,
"resolve": {"scale": {"y": "independent"}},
"layer": [
{"layer": [
{"data": {"name": "raman"}, "transform": [{"filter": "datum.s === '1E13'"}], "mark": {"type": "line", "color": "#b656c4", "strokeWidth": 2.4}, "encoding": {"x": {"field": "x", "type": "quantitative", "scale": {"domain": [200, 3800], "range": [185, 496], "nice": false, "zero": false}}, "y": {"field": "y", "type": "quantitative", "scale": {"domain": [0, 1], "range": [90.7, 22], "nice": false, "zero": false}, "axis": null}}},
{"data": {"values": [{}]}, "mark": {"type": "rect", "filled": false, "stroke": "#000", "strokeWidth": 2.5}, "encoding": {"x": {"datum": 200, "type": "quantitative", "scale": {"domain": [200, 3800], "range": [185, 496], "nice": false, "zero": false}}, "x2": {"datum": 3800}, "y": {"datum": 0, "type": "quantitative", "scale": {"domain": [0, 1], "range": [90.7, 22], "nice": false, "zero": false}, "axis": null}, "y2": {"datum": 1}}},
{"data": {"values": [{}]}, "mark": {"type": "rect", "fill": "#fff", "stroke": "#9a9a9a", "strokeWidth": 1}, "encoding": {"x": {"datum": 2810, "type": "quantitative", "scale": {"domain": [200, 3800], "range": [185, 496], "nice": false, "zero": false}}, "x2": {"datum": 3760}, "y": {"datum": 0.72, "type": "quantitative", "scale": {"domain": [0, 1], "range": [90.7, 22], "nice": false, "zero": false}, "axis": null}, "y2": {"datum": 0.94}}},
{"data": {"values": [{}]}, "mark": {"type": "text", "text": "CCF/ Ppy 1E13", "align": "right", "baseline": "middle", "fontSize": 10.5, "fontWeight": "bold", "color": "#222"}, "encoding": {"x": {"datum": 3715, "type": "quantitative", "scale": {"domain": [200, 3800], "range": [185, 496], "nice": false, "zero": false}}, "y": {"datum": 0.83, "type": "quantitative", "scale": {"domain": [0, 1], "range": [90.7, 22], "nice": false, "zero": false}, "axis": null}}}
]},
{"layer": [
{"data": {"name": "raman"}, "transform": [{"filter": "datum.s === '5E12'"}], "mark": {"type": "line", "color": "#4a1012", "strokeWidth": 2.4}, "encoding": {"x": {"field": "x", "type": "quantitative", "scale": {"domain": [200, 3800], "range": [185, 496], "nice": false, "zero": false}}, "y": {"field": "y", "type": "quantitative", "scale": {"domain": [0, 1], "range": [159.3, 90.7], "nice": false, "zero": false}, "axis": null}}},
{"data": {"values": [{}]}, "mark": {"type": "rect", "filled": false, "stroke": "#000", "strokeWidth": 2.5}, "encoding": {"x": {"datum": 200, "type": "quantitative", "scale": {"domain": [200, 3800], "range": [185, 496], "nice": false, "zero": false}}, "x2": {"datum": 3800}, "y": {"datum": 0, "type": "quantitative", "scale": {"domain": [0, 1], "range": [159.3, 90.7], "nice": false, "zero": false}, "axis": null}, "y2": {"datum": 1}}},
{"data": {"values": [{}]}, "mark": {"type": "rect", "fill": "#fff", "stroke": "#9a9a9a", "strokeWidth": 1}, "encoding": {"x": {"datum": 2752, "type": "quantitative", "scale": {"domain": [200, 3800], "range": [185, 496], "nice": false, "zero": false}}, "x2": {"datum": 3760}, "y": {"datum": 0.72, "type": "quantitative", "scale": {"domain": [0, 1], "range": [159.3, 90.7], "nice": false, "zero": false}, "axis": null}, "y2": {"datum": 0.92}}},
{"data": {"values": [{}]}, "mark": {"type": "text", "text": "CCF/Ppy 5E12", "align": "right", "baseline": "middle", "fontSize": 10.5, "fontWeight": "bold", "color": "#222"}, "encoding": {"x": {"datum": 3715, "type": "quantitative", "scale": {"domain": [200, 3800], "range": [185, 496], "nice": false, "zero": false}}, "y": {"datum": 0.82, "type": "quantitative", "scale": {"domain": [0, 1], "range": [159.3, 90.7], "nice": false, "zero": false}, "axis": null}}}
]},
{"layer": [
{"data": {"name": "raman"}, "transform": [{"filter": "datum.s === '1E12'"}], "mark": {"type": "line", "color": "#2e2f86", "strokeWidth": 2.4}, "encoding": {"x": {"field": "x", "type": "quantitative", "scale": {"domain": [200, 3800], "range": [185, 496], "nice": false, "zero": false}}, "y": {"field": "y", "type": "quantitative", "scale": {"domain": [0, 1], "range": [228, 159.3], "nice": false, "zero": false}, "axis": null}}},
{"data": {"values": [{}]}, "mark": {"type": "rect", "filled": false, "stroke": "#000", "strokeWidth": 2.5}, "encoding": {"x": {"datum": 200, "type": "quantitative", "scale": {"domain": [200, 3800], "range": [185, 496], "nice": false, "zero": false}}, "x2": {"datum": 3800}, "y": {"datum": 0, "type": "quantitative", "scale": {"domain": [0, 1], "range": [228, 159.3], "nice": false, "zero": false}, "axis": null}, "y2": {"datum": 1}}},
{"data": {"values": [{}]}, "mark": {"type": "rect", "fill": "#fff", "stroke": "#9a9a9a", "strokeWidth": 1}, "encoding": {"x": {"datum": 2752, "type": "quantitative", "scale": {"domain": [200, 3800], "range": [185, 496], "nice": false, "zero": false}}, "x2": {"datum": 3760}, "y": {"datum": 0.7, "type": "quantitative", "scale": {"domain": [0, 1], "range": [228, 159.3], "nice": false, "zero": false}, "axis": null}, "y2": {"datum": 0.92}}},
{"data": {"values": [{}]}, "mark": {"type": "text", "text": "CCF/Ppy 1E12", "align": "right", "baseline": "middle", "fontSize": 10.5, "fontWeight": "bold", "color": "#222"}, "encoding": {"x": {"datum": 3715, "type": "quantitative", "scale": {"domain": [200, 3800], "range": [185, 496], "nice": false, "zero": false}}, "y": {"datum": 0.81, "type": "quantitative", "scale": {"domain": [0, 1], "range": [228, 159.3], "nice": false, "zero": false}, "axis": null}}}
]},
{"layer": [
{"data": {"name": "raman"}, "transform": [{"filter": "datum.s === '5E11'"}], "mark": {"type": "line", "color": "#6fd16a", "strokeWidth": 2.8}, "encoding": {"x": {"field": "x", "type": "quantitative", "scale": {"domain": [200, 3800], "range": [185, 496], "nice": false, "zero": false}}, "y": {"field": "y", "type": "quantitative", "scale": {"domain": [0, 1], "range": [296.7, 228], "nice": false, "zero": false}, "axis": null}}},
{"data": {"values": [{}]}, "mark": {"type": "rect", "filled": false, "stroke": "#000", "strokeWidth": 2.5}, "encoding": {"x": {"datum": 200, "type": "quantitative", "scale": {"domain": [200, 3800], "range": [185, 496], "nice": false, "zero": false}}, "x2": {"datum": 3800}, "y": {"datum": 0, "type": "quantitative", "scale": {"domain": [0, 1], "range": [296.7, 228], "nice": false, "zero": false}, "axis": null}, "y2": {"datum": 1}}},
{"data": {"values": [{}]}, "mark": {"type": "rect", "fill": "#fff", "stroke": "#9a9a9a", "strokeWidth": 1}, "encoding": {"x": {"datum": 2717, "type": "quantitative", "scale": {"domain": [200, 3800], "range": [185, 496], "nice": false, "zero": false}}, "x2": {"datum": 3760}, "y": {"datum": 0.72, "type": "quantitative", "scale": {"domain": [0, 1], "range": [296.7, 228], "nice": false, "zero": false}, "axis": null}, "y2": {"datum": 0.93}}},
{"data": {"values": [{}]}, "mark": {"type": "text", "text": "CCF/Ppy 5E11", "align": "right", "baseline": "middle", "fontSize": 10.5, "fontWeight": "bold", "color": "#222"}, "encoding": {"x": {"datum": 3715, "type": "quantitative", "scale": {"domain": [200, 3800], "range": [185, 496], "nice": false, "zero": false}}, "y": {"datum": 0.83, "type": "quantitative", "scale": {"domain": [0, 1], "range": [296.7, 228], "nice": false, "zero": false}, "axis": null}}}
]},
{"layer": [
{"data": {"name": "raman"}, "transform": [{"filter": "datum.s === '1E11'"}], "mark": {"type": "line", "color": "#d42525", "strokeWidth": 2.2}, "encoding": {"x": {"field": "x", "type": "quantitative", "scale": {"domain": [200, 3800], "range": [185, 496], "nice": false, "zero": false}}, "y": {"field": "y", "type": "quantitative", "scale": {"domain": [0, 1], "range": [365.3, 296.7], "nice": false, "zero": false}, "axis": null}}},
{"data": {"values": [{}]}, "mark": {"type": "rect", "filled": false, "stroke": "#000", "strokeWidth": 2.5}, "encoding": {"x": {"datum": 200, "type": "quantitative", "scale": {"domain": [200, 3800], "range": [185, 496], "nice": false, "zero": false}}, "x2": {"datum": 3800}, "y": {"datum": 0, "type": "quantitative", "scale": {"domain": [0, 1], "range": [365.3, 296.7], "nice": false, "zero": false}, "axis": null}, "y2": {"datum": 1}}},
{"data": {"values": [{}]}, "mark": {"type": "rect", "fill": "#fff", "stroke": "#9a9a9a", "strokeWidth": 1}, "encoding": {"x": {"datum": 2717, "type": "quantitative", "scale": {"domain": [200, 3800], "range": [185, 496], "nice": false, "zero": false}}, "x2": {"datum": 3760}, "y": {"datum": 0.74, "type": "quantitative", "scale": {"domain": [0, 1], "range": [365.3, 296.7], "nice": false, "zero": false}, "axis": null}, "y2": {"datum": 0.96}}},
{"data": {"values": [{}]}, "mark": {"type": "text", "text": "CCF/Ppy 1E11", "align": "right", "baseline": "middle", "fontSize": 10.5, "fontWeight": "bold", "color": "#222"}, "encoding": {"x": {"datum": 3715, "type": "quantitative", "scale": {"domain": [200, 3800], "range": [185, 496], "nice": false, "zero": false}}, "y": {"datum": 0.86, "type": "quantitative", "scale": {"domain": [0, 1], "range": [365.3, 296.7], "nice": false, "zero": false}, "axis": null}}}
]},
{"layer": [
{"data": {"name": "raman"}, "transform": [{"filter": "datum.s === 'P'"}], "mark": {"type": "line", "color": "#111", "strokeWidth": 2.2}, "encoding": {"x": {"field": "x", "type": "quantitative", "scale": {"domain": [200, 3800], "range": [185, 496], "nice": false, "zero": false}, "axis": {"title": "Raman Shift (cm⁻¹)", "values": [500, 1000, 1500, 2000, 2500, 3000, 3500], "format": "d", "offset": -84, "domain": false, "grid": false, "ticks": true, "labels": true, "tickSize": 5, "tickWidth": 2, "tickColor": "#111", "labelFlush": false, "labelFontSize": 13, "labelFontWeight": "bold", "labelColor": "#111", "labelPadding": 4, "titleFontSize": 16, "titleFontWeight": "bold", "titleColor": "#111", "titlePadding": 7}}, "y": {"field": "y", "type": "quantitative", "scale": {"domain": [0, 1], "range": [434, 365.3], "nice": false, "zero": false}, "axis": {"title": "Intensity (A. U.)", "orient": "left", "labels": false, "ticks": false, "domain": false, "grid": false, "titleX": 164, "titleY": 200, "titleAngle": -90, "titleAlign": "center", "titleBaseline": "middle", "titleFontSize": 19, "titleFontWeight": "bold", "titleColor": "#111"}}}},
{"data": {"values": [{}]}, "mark": {"type": "rect", "filled": false, "stroke": "#000", "strokeWidth": 2.5}, "encoding": {"x": {"datum": 200, "type": "quantitative", "scale": {"domain": [200, 3800], "range": [185, 496], "nice": false, "zero": false}}, "x2": {"datum": 3800}, "y": {"datum": 0, "type": "quantitative", "scale": {"domain": [0, 1], "range": [434, 365.3], "nice": false, "zero": false}}, "y2": {"datum": 1}}},
{"data": {"values": [{}]}, "mark": {"type": "rule", "stroke": "#777", "strokeWidth": 1.2}, "encoding": {"x": {"datum": 2463, "type": "quantitative", "scale": {"domain": [200, 3800], "range": [185, 496], "nice": false, "zero": false}}, "y": {"datum": 0.72, "type": "quantitative", "scale": {"domain": [0, 1], "range": [434, 365.3], "nice": false, "zero": false}}, "y2": {"datum": 0.93}}},
{"data": {"values": [{}]}, "mark": {"type": "text", "text": "CCF/Ppy Pristine", "align": "right", "baseline": "middle", "fontSize": 12, "fontWeight": "bold", "color": "#222"}, "encoding": {"x": {"datum": 3715, "type": "quantitative", "scale": {"domain": [200, 3800], "range": [185, 496], "nice": false, "zero": false}}, "y": {"datum": 0.82, "type": "quantitative", "scale": {"domain": [0, 1], "range": [434, 365.3], "nice": false, "zero": false}}}}
]}
]
},
{
"width": 645, "height": 80,
"data": {"values": []},
"mark": "point",
"title": {"text": ["Figure 1: XRD pattern for pristine and irradiated", "Co₀.₅Cu₀.₅Fe₂O₄/Ppy nanocomposites"], "orient": "top", "anchor": "middle", "frame": "group", "offset": -66, "baseline": "top", "font": "Liberation Serif", "fontSize": 22, "fontWeight": "bold", "color": "#111", "lineHeight": 35}
},
{
"width": 646, "height": 80,
"data": {"values": []},
"mark": "point",
"title": {"text": ["Figure 2: Raman spectra for pristine and irradiated", "Co₀.₅Cu₀.₅Fe₂O₄/Ppy nanocomposites"], "orient": "top", "anchor": "middle", "frame": "group", "offset": -74, "baseline": "top", "font": "Liberation Serif", "fontSize": 22, "fontWeight": "bold", "color": "#111", "lineHeight": 43}
}
],
"config": {
"view": {"stroke": "#6a6a6a", "strokeWidth": 2},
"font": "Liberation Sans",
"axis": {"labelFont": "Liberation Sans", "titleFont": "Liberation Sans", "labelFontWeight": "bold", "titleFontWeight": "bold"},
"text": {"font": "Liberation Sans"},
"title": {"font": "Liberation Serif"}
}
}
